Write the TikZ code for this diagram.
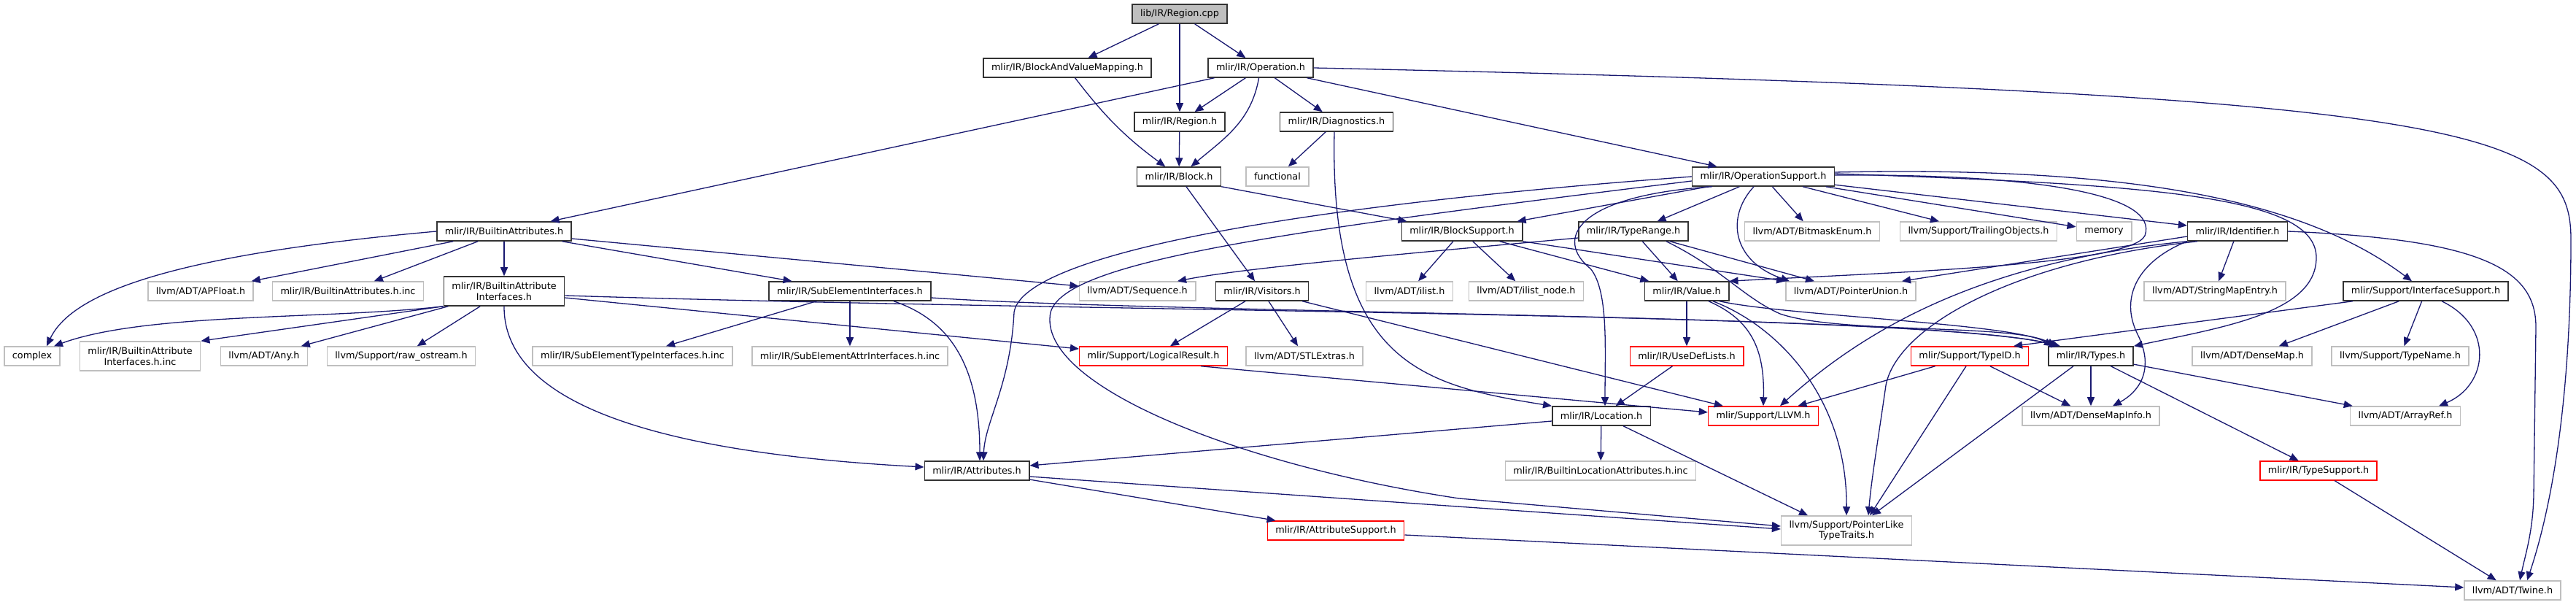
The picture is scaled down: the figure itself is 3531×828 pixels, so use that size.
\documentclass[tikz,border=0pt]{standalone}
\usepackage{fontspec}
\newfontfamily\dxfont{DejaVu Sans}
\usetikzlibrary{arrows.meta}
\definecolor{edgeblue}{HTML}{191970}
\definecolor{sysgray}{HTML}{BFBFBF}
\definecolor{truncred}{HTML}{FF0000}
\tikzset{
  file/.style={draw=black!80, fill=white, line width=1.5pt, minimum height=26pt,
    inner xsep=11pt, inner ysep=3pt, font=\dxfont\fontsize{12.8}{14.7}\selectfont},
  sysfile/.style={file, draw=sysgray},
  truncfile/.style={file, draw=truncred},
  rootfile/.style={file, fill=sysgray},
  twoline/.style={align=center, minimum height=40pt},
  dep/.style={draw=edgeblue, line width=1.3pt, ->},
}
\begin{document}
\begin{tikzpicture}[x=1pt, y=1pt, >={Triangle[length=12pt,width=10pt]}]
\useasboundingbox (0,0) rectangle (3531,828);

% rank 0 - 3
\node[rootfile] (cpp) at (1617,809) {lib/IR/Region.cpp};
\node[file] (bvm) at (1463,735) {mlir/IR/BlockAndValueMapping.h};
\node[file] (op) at (1728,735) {mlir/IR/Operation.h};
\node[file] (regh) at (1617,661) {mlir/IR/Region.h};
\node[file] (diag) at (1832,661) {mlir/IR/Diagnostics.h};
\node[file] (block) at (1616,586) {mlir/IR/Block.h};
\node[sysfile] (func) at (1751,586) {functional};
\node[file] (ops) at (2417,586) {mlir/IR/OperationSupport.h};

% rank 4
\node[file] (battr) at (691,511) {mlir/IR/BuiltinAttributes.h};
\node[file] (bsup) at (2004,511) {mlir/IR/BlockSupport.h};
\node[file] (trange) at (2239,511) {mlir/IR/TypeRange.h};
\node[sysfile] (bmask) at (2484,511) {llvm/ADT/BitmaskEnum.h};
\node[sysfile] (trail) at (2712,511) {llvm/Support/TrailingObjects.h};
\node[sysfile] (mem) at (2884,511) {memory};
\node[file] (ident) at (3067,511) {mlir/IR/Identifier.h};

% rank 5
\node[sysfile] (apf) at (275,429) {llvm/ADT/APFloat.h};
\node[sysfile] (bainc) at (477,429) {mlir/IR/BuiltinAttributes.h.inc};
\node[file, twoline] (bai) at (691,429) {mlir/IR/BuiltinAttribute\\Interfaces.h};
\node[file] (sei) at (1165,429) {mlir/IR/SubElementInterfaces.h};
\node[sysfile] (seq) at (1559,429) {llvm/ADT/Sequence.h};
\node[file] (vis) at (1730,429) {mlir/IR/Visitors.h};
\node[sysfile] (ilist) at (1932,429) {llvm/ADT/ilist.h};
\node[sysfile] (ilnode) at (2092,429) {llvm/ADT/ilist\_node.h};
\node[file] (value) at (2312,429) {mlir/IR/Value.h};
\node[sysfile] (punion) at (2537,429) {llvm/ADT/PointerUnion.h};
\node[sysfile] (smap) at (3036,429) {llvm/ADT/StringMapEntry.h};
\node[file] (isup) at (3325,429) {mlir/Support/InterfaceSupport.h};

% rank 6
\node[sysfile] (complex) at (44,340) {complex};
\node[sysfile, twoline] (baiinc) at (192,340) {mlir/IR/BuiltinAttribute\\Interfaces.h.inc};
\node[sysfile] (any) at (362,340) {llvm/ADT/Any.h};
\node[sysfile] (rawos) at (550,340) {llvm/Support/raw\_ostream.h};
\node[sysfile] (setinc) at (867,340) {mlir/IR/SubElementTypeInterfaces.h.inc};
\node[sysfile] (seainc) at (1165,340) {mlir/IR/SubElementAttrInterfaces.h.inc};
\node[truncfile] (logres) at (1581,340) {mlir/Support/LogicalResult.h};
\node[sysfile] (stl) at (1788,340) {llvm/ADT/STLExtras.h};
\node[truncfile] (udl) at (2312,340) {mlir/IR/UseDefLists.h};
\node[truncfile] (tid) at (2700,340) {mlir/Support/TypeID.h};
\node[file] (types) at (2866,340) {mlir/IR/Types.h};
\node[sysfile] (dmap) at (3087,340) {llvm/ADT/DenseMap.h};
\node[sysfile] (tname) at (3290,340) {llvm/Support/TypeName.h};

% rank 7 - 10
\node[file] (loc) at (2195,258) {mlir/IR/Location.h};
\node[truncfile] (llvm) at (2417,258) {mlir/Support/LLVM.h};
\node[sysfile] (dmi) at (2866,258) {llvm/ADT/DenseMapInfo.h};
\node[sysfile] (aref) at (3297,258) {llvm/ADT/ArrayRef.h};
\node[file] (attr) at (1339,183) {mlir/IR/Attributes.h};
\node[sysfile] (blai) at (2194,183) {mlir/IR/BuiltinLocationAttributes.h.inc};
\node[truncfile] (tsup) at (3178,183) {mlir/IR/TypeSupport.h};
\node[truncfile] (attrsup) at (1831,101) {mlir/IR/AttributeSupport.h};
\node[sysfile, twoline] (pltt) at (2531,101) {llvm/Support/PointerLike\\TypeTraits.h};
\node[sysfile] (twine) at (3444,19) {llvm/ADT/Twine.h};

% Region.cpp, BlockAndValueMapping.h, Operation.h
\draw[dep] (cpp) -- (bvm);
\draw[dep] (cpp) -- (regh);
\draw[dep] (cpp) -- (op);
\draw[dep] (bvm) to[bend right=8] (block);
\draw[dep] (op) -- (battr);
\draw[dep] (op) -- (regh);
\draw[dep] (op) to[out=-100,in=40] (block);
\draw[dep] (op) -- (diag);
\draw[dep] (op) -- (ops);
\draw[dep] (op.east) .. controls (3400,700) and (3524,650) .. (3524,500)
  .. controls (3524,250) and (3490,110) .. ([xshift=20pt]twine.north);
\draw[dep] (regh) -- (block);
\draw[dep] (diag) -- (func);
\draw[dep] ([xshift=-3pt]diag.south) .. controls (1822,330) and (1950,300) .. (loc.north west);
\draw[dep] (block.south east) -- ([xshift=8pt]bsup.north west);
\draw[dep] (block) -- (vis);

% BuiltinAttributes.h and its interfaces
\draw[dep] (battr.west) .. controls (250,480) and (100,430) .. ([xshift=20pt]complex.north);
\draw[dep] (battr) -- (apf);
\draw[dep] (battr) -- (bainc);
\draw[dep] (battr) -- (bai);
\draw[dep] (battr) -- (sei);
\draw[dep] ([yshift=-10pt]battr.east) -- ([yshift=7pt]seq.west);
\draw[dep] (bai.south west) .. controls (450,390) and (200,400) .. ([xshift=30pt]complex.north);
\draw[dep] (bai.south west) -- (baiinc.north east);
\draw[dep] (bai) -- (any);
\draw[dep] (bai) -- (rawos);
\draw[dep] (bai.south) .. controls (690,260) and (950,205) .. ([yshift=5pt]attr.west);
\draw[dep] ([yshift=-6pt]bai.east) .. controls (1500,400) and (2650,400) .. ([xshift=-45pt]types.north);
\draw[dep] ([yshift=-9pt]bai.east) -- ([yshift=10pt]logres.west);
\draw[dep] (sei) -- (setinc);
\draw[dep] (sei) -- (seainc);
\draw[dep] ([xshift=60pt]sei.south) .. controls (1300,390) and (1343,330) .. ([xshift=4pt]attr.north);
\draw[dep] ([yshift=-9pt]sei.east) .. controls (1600,398) and (2650,398) .. ([xshift=-42pt]types.north);
\draw[dep] (vis) -- (logres);
\draw[dep] (vis) -- (stl);
\draw[dep] (vis) -- (llvm);
\draw[dep] ([xshift=65pt]logres.south) -- ([yshift=5pt]llvm.west);
\draw[dep] (attr) -- (attrsup);
\draw[dep] ([yshift=-8pt]attr.east) -- ([yshift=2pt]pltt.west);
\draw[dep] ([yshift=-6pt]attrsup.east) -- ([yshift=4pt]twine.west);

% OperationSupport.h
\draw[dep] (ops) -- (bsup);
\draw[dep] (ops) -- (trange);
\draw[dep] (ops) -- (bmask);
\draw[dep] (ops) -- (trail);
\draw[dep] (ops) -- (mem);
\draw[dep] (ops) -- (ident);
\draw[dep] (ops.west) .. controls (1700,540) and (1400,470) .. (1390,400)
  .. controls (1385,300) and (1350,250) .. ([xshift=9pt]attr.north);
\draw[dep] ([yshift=-6pt]ops.west) .. controls (1750,510) and (1460,470) .. (1440,400)
  .. controls (1420,300) and (1700,190) .. (2000,145) -- ([yshift=6pt]pltt.west);
\draw[dep] ([xshift=-70pt]ops.south) .. controls (2160,560) and (2130,500) .. (2180,460)
  .. controls (2205,430) and (2200,350) .. ([xshift=5pt]loc.north);
\draw[dep] ([xshift=-13pt]ops.south) .. controls (2365,530) and (2375,470) .. ([xshift=-84pt]punion.north);
\draw[dep] ([yshift=2pt]ops.east) .. controls (2800,590) and (2960,560) .. (2940,505)
  .. controls (2920,465) and (2600,455) .. (value.north east);
\draw[dep] ([yshift=4pt]ops.east) .. controls (2950,575) and (3175,560) .. (3175,475)
  .. controls (3175,400) and (3050,380) .. (types.north east);
\draw[dep] ([yshift=6pt]ops.east) .. controls (2900,600) and (3150,560) .. ([xshift=-19pt]isup.north);

% BlockSupport.h, TypeRange.h, Value.h
\draw[dep] (bsup) -- (value);
\draw[dep] (bsup.south east) -- (punion.north west);
\draw[dep] (bsup) -- (ilist);
\draw[dep] (bsup) -- (ilnode);
\draw[dep] (trange) -- (value);
\draw[dep] (trange) -- (punion);
\draw[dep] ([xshift=45pt]trange.south) .. controls (2360,460) and (2390,420) .. (2440,398)
  .. controls (2520,370) and (2760,385) .. ([xshift=-48pt]types.north);
\draw[dep] ([yshift=-9pt]trange.west) .. controls (1900,478) and (1700,460) .. ([xshift=55pt]seq.north);
\draw[dep] (value) -- (udl);
\draw[dep] ([xshift=30pt]value.south) .. controls (2400,390) and (2419,350) .. (llvm.north);
\draw[dep] ([xshift=36pt]value.south) .. controls (2440,380) and (2532,280) .. (pltt.north);
\draw[dep] ([xshift=45pt]value.south) .. controls (2450,395) and (2760,385) .. ([xshift=-52pt]types.north);
\draw[dep] (udl) -- (loc);

% Identifier.h
\draw[dep] (ident) -- (smap);
\draw[dep] (ident.east) .. controls (3400,500) and (3476,460) .. (3476,380) -- (3473,150)
  .. controls (3472,100) and (3462,70) .. ([xshift=10pt]twine.north);
\draw[dep] (ident.south west) .. controls (2930,470) and (2905,420) .. (2930,370)
  .. controls (2955,320) and (2930,290) .. ([xshift=30pt]dmi.north);
\draw[dep] ([yshift=-7pt]ident.west) -- ([xshift=70pt]punion.north);
\draw[dep] (ident.south west) .. controls (2720,470) and (2560,380) .. ([xshift=23pt]llvm.north);
\draw[dep] ([xshift=-55pt]ident.south) .. controls (2760,470) and (2600,380) .. (2585,300)
  .. controls (2575,230) and (2565,170) .. ([xshift=30pt]pltt.north);

% TypeID.h, Types.h, InterfaceSupport.h
\draw[dep] (tid) -- (llvm);
\draw[dep] (tid) -- (dmi);
\draw[dep] ([xshift=-5pt]tid.south) -- ([xshift=32pt]pltt.north);
\draw[dep] (types) -- (tsup);
\draw[dep] (types) -- (aref);
\draw[dep] (types) -- (dmi);
\draw[dep] ([xshift=-24pt]types.south) -- ([xshift=35pt]pltt.north);
\draw[dep] ([xshift=-100pt]isup.south) -- ([xshift=60pt]tid.north);
\draw[dep] (isup) -- (dmap);
\draw[dep] (isup) -- (tname);
\draw[dep] ([xshift=22pt]isup.south) .. controls (3420,380) and (3410,300) .. ([xshift=46pt]aref.north);

% Location.h, TypeSupport.h
\draw[dep] ([yshift=-7pt]loc.west) -- ([yshift=7pt]attr.east);
\draw[dep] (loc) -- (blai);
\draw[dep] ([xshift=30pt]loc.south) -- ([xshift=-53pt]pltt.north);
\draw[dep] (tsup) -- (twine);
\end{tikzpicture}
\end{document}
